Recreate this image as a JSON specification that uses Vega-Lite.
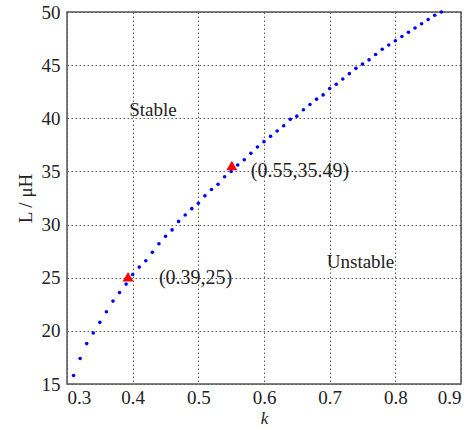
{
  "$schema": "https://vega.github.io/schema/vega-lite/v6.json",
  "width": 394,
  "height": 372,
  "autosize": {"type": "none"},
  "padding": {"left": 67, "top": 12, "right": 12, "bottom": 46},
  "background": "white",
  "config": {
    "view": {"stroke": "#555555", "strokeWidth": 1.5},
    "font": "Liberation Serif",
    "axis": {
      "labelFont": "Liberation Serif",
      "titleFont": "Liberation Serif",
      "labelFontSize": 19,
      "titleFontSize": 19,
      "labelColor": "#222222",
      "titleColor": "#222222",
      "titleFontWeight": "normal",
      "domain": false,
      "ticks": false,
      "grid": true,
      "gridColor": "#555555",
      "gridDash": [1.5, 2.5],
      "gridWidth": 1,
      "gridOpacity": 1
    }
  },
  "datasets": {
    "curve": [
      {"k": 0.31, "L": 15.8}, {"k": 0.32, "L": 17.4}, {"k": 0.33, "L": 18.8}, {"k": 0.34, "L": 19.8},
      {"k": 0.35, "L": 20.8}, {"k": 0.36, "L": 21.8}, {"k": 0.37, "L": 22.8}, {"k": 0.38, "L": 23.6},
      {"k": 0.39, "L": 24.4}, {"k": 0.40, "L": 25.3}, {"k": 0.41, "L": 26.0}, {"k": 0.42, "L": 26.6},
      {"k": 0.43, "L": 27.4}, {"k": 0.44, "L": 28.2}, {"k": 0.45, "L": 28.9}, {"k": 0.46, "L": 29.5},
      {"k": 0.47, "L": 30.3}, {"k": 0.48, "L": 30.9}, {"k": 0.49, "L": 31.5}, {"k": 0.50, "L": 32.0},
      {"k": 0.51, "L": 32.7}, {"k": 0.52, "L": 33.3}, {"k": 0.53, "L": 33.8}, {"k": 0.54, "L": 34.5},
      {"k": 0.55, "L": 35.0}, {"k": 0.56, "L": 35.6}, {"k": 0.57, "L": 36.1}, {"k": 0.58, "L": 36.7},
      {"k": 0.59, "L": 37.3}, {"k": 0.60, "L": 37.8}, {"k": 0.61, "L": 38.3}, {"k": 0.62, "L": 38.8},
      {"k": 0.63, "L": 39.3}, {"k": 0.64, "L": 39.9}, {"k": 0.65, "L": 40.2}, {"k": 0.66, "L": 40.8},
      {"k": 0.67, "L": 41.3}, {"k": 0.68, "L": 41.8}, {"k": 0.69, "L": 42.2}, {"k": 0.70, "L": 42.8},
      {"k": 0.71, "L": 43.2}, {"k": 0.72, "L": 43.7}, {"k": 0.73, "L": 44.2}, {"k": 0.74, "L": 44.7},
      {"k": 0.75, "L": 45.1}, {"k": 0.76, "L": 45.5}, {"k": 0.77, "L": 46.0}, {"k": 0.78, "L": 46.5},
      {"k": 0.79, "L": 46.9}, {"k": 0.80, "L": 47.3}, {"k": 0.81, "L": 47.7}, {"k": 0.82, "L": 48.1},
      {"k": 0.83, "L": 48.5}, {"k": 0.84, "L": 48.9}, {"k": 0.85, "L": 49.3}, {"k": 0.86, "L": 49.7},
      {"k": 0.87, "L": 50.0}
    ],
    "markers": [
      {"k": 0.393, "L": 25.1},
      {"k": 0.551, "L": 35.55}
    ],
    "labels": [
      {"k": 0.44, "L": 25.0, "text": "(0.39,25)"},
      {"k": 0.58, "L": 35.0, "text": "(0.55,35.49)"},
      {"k": 0.431, "L": 40.8, "text": "Stable", "center": true},
      {"k": 0.747, "L": 26.5, "text": "Unstable", "center": true}
    ]
  },
  "layer": [
    {
      "data": {"name": "curve"},
      "mark": {"type": "point", "filled": true, "color": "#0000ff", "size": 13, "opacity": 1},
      "encoding": {
        "x": {
          "field": "k", "type": "quantitative",
          "scale": {"domain": [0.3, 0.9], "nice": false, "zero": false},
          "axis": {
            "values": [0.3, 0.4, 0.5, 0.6, 0.7, 0.8, 0.9],
            "format": ".1f",
            "labelPadding": 4,
            "title": "k",
            "titleFontStyle": "italic",
            "titleFontSize": 17,
            "titlePadding": 3
          }
        },
        "y": {
          "field": "L", "type": "quantitative",
          "scale": {"domain": [15, 50], "nice": false, "zero": false},
          "axis": {
            "values": [15, 20, 25, 30, 35, 40, 45, 50],
            "labelPadding": 7,
            "title": "L / μH",
            "titlePadding": 6
          }
        }
      }
    },
    {
      "data": {"name": "markers"},
      "mark": {"type": "point", "shape": "triangle-up", "filled": true, "color": "#ff0000", "size": 120, "opacity": 1},
      "encoding": {
        "x": {"field": "k", "type": "quantitative"},
        "y": {"field": "L", "type": "quantitative"}
      }
    },
    {
      "data": {"name": "labels"},
      "transform": [{"filter": "!datum.center"}],
      "mark": {"type": "text", "align": "left", "baseline": "middle", "fontSize": 20, "font": "Liberation Serif", "color": "#222222"},
      "encoding": {
        "x": {"field": "k", "type": "quantitative"},
        "y": {"field": "L", "type": "quantitative"},
        "text": {"field": "text"}
      }
    },
    {
      "data": {"name": "labels"},
      "transform": [{"filter": "datum.center"}],
      "mark": {"type": "text", "align": "center", "baseline": "middle", "fontSize": 19, "font": "Liberation Serif", "color": "#222222"},
      "encoding": {
        "x": {"field": "k", "type": "quantitative"},
        "y": {"field": "L", "type": "quantitative"},
        "text": {"field": "text"}
      }
    }
  ]
}
